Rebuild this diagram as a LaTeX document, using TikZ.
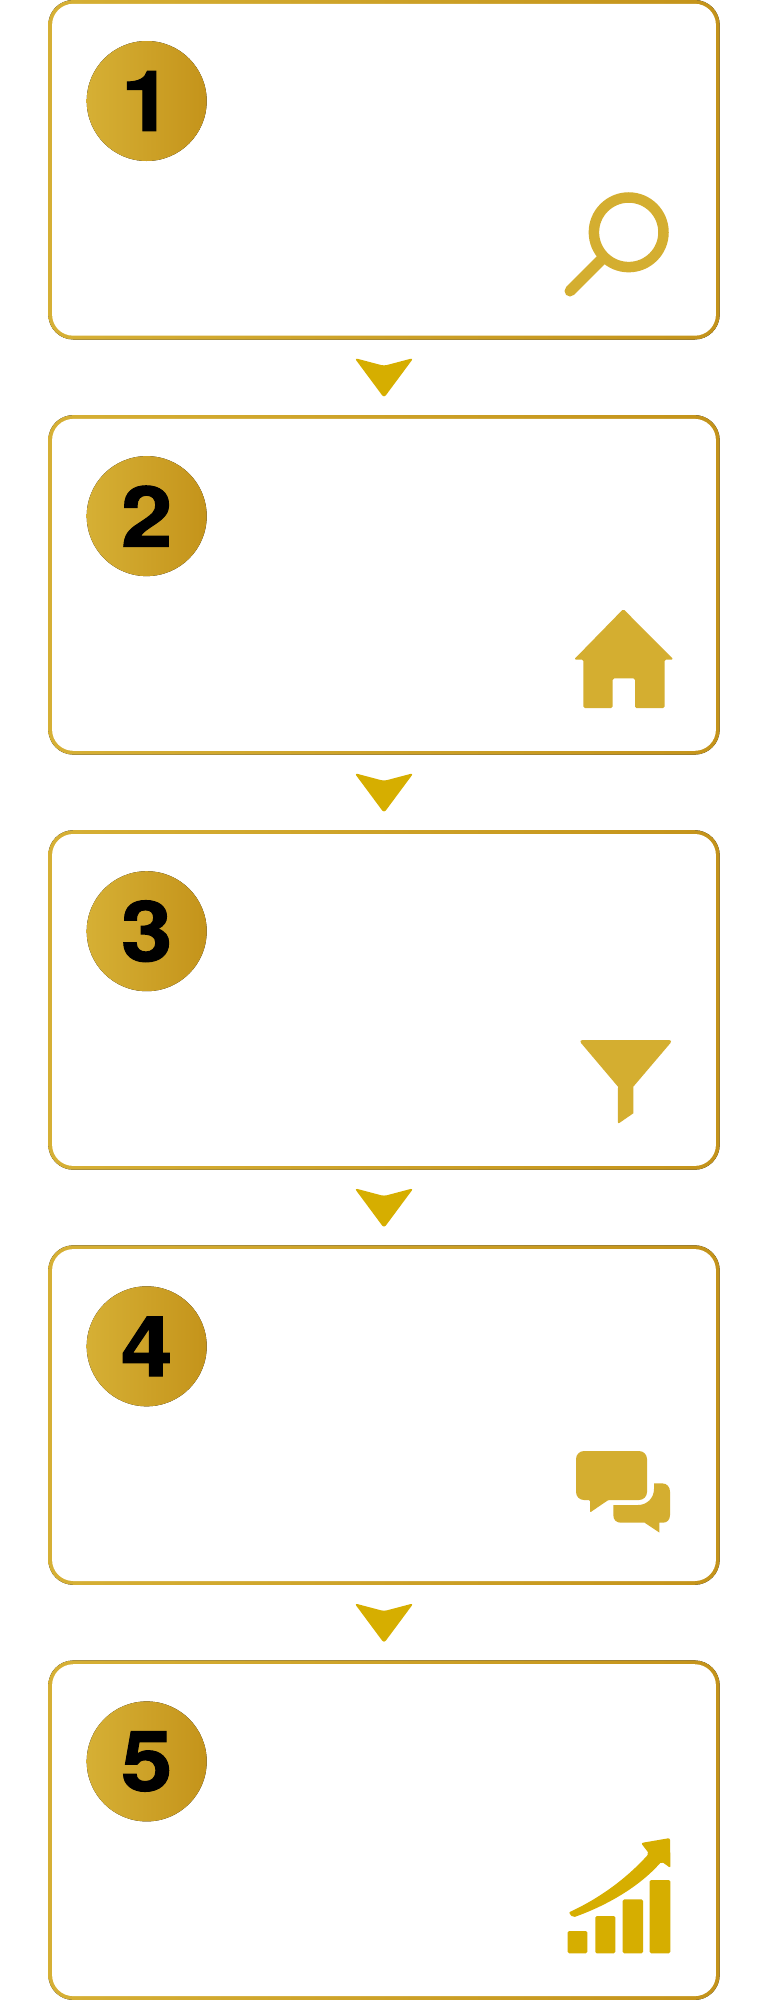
\documentclass[tikz,border=0pt]{standalone}
\usepackage{fontspec}
\usepackage{xcolor}
\usepackage{tikz}
\usetikzlibrary{positioning, calc}
\newfontfamily\digitfont[FakeStretch=1.1,FakeBold=1.2]{TeX Gyre Heros Bold}
\definecolor{goldleft}{HTML}{D6B035}
\definecolor{goldright}{HTML}{C4931A}
\definecolor{goldicon}{HTML}{D4AE30}
\definecolor{goldarrow}{HTML}{D6AE00}
\tikzset{
  goldfill/.style={path picture={\fill[left color=goldleft, right color=goldright]
               ([shift={(-2pt,-2pt)}]path picture bounding box.south west) rectangle
               ([shift={(2pt,2pt)}]path picture bounding box.north east);}},
  card/.style={rounded corners=25pt, goldfill,
               minimum width=671.4pt, minimum height=339.5pt, inner sep=0pt, outer sep=0pt},
  cardin/.style={fill=white, rounded corners=21.2pt,
               minimum width=663.8pt, minimum height=331.9pt, inner sep=0pt, outer sep=0pt},
  badge/.style={circle, goldfill, text=black,
               minimum size=120pt, inner sep=0pt, font=\digitfont\fontsize{84}{84}\selectfont},
  icon/.style={fill=goldicon, rounded corners=1.5pt},
  bar/.style={fill=goldarrow, rounded corners=1.5pt},
  downarrow/.pic={
    \fill[goldarrow, rounded corners=3pt] (-29.5,-19.3) -- (0,-11.5) -- (29.5,-19.3) -- (0,20.5) -- cycle;
  }
}

\begin{document}
\begin{tikzpicture}[x=1pt, y=-1pt, node distance=75.6pt]
  \useasboundingbox (0,0) rectangle (768,2000);
  \node[card] (card1) at (384,169.75) {};
  \node[card, below=of card1] (card2) {};
  \node[card, below=of card2] (card3) {};
  \node[card, below=of card3] (card4) {};
  \node[card, below=of card4] (card5) {};
  \node[cardin] (inner1) at (card1) {};
  \node[cardin] (inner2) at (card2) {};
  \node[cardin] (inner3) at (card3) {};
  \node[cardin] (inner4) at (card4) {};
  \node[cardin] (inner5) at (card5) {};
  \node[badge] (num1) at ([shift={(98.4,101)}]card1.north west) {1};
  \node[badge] (num2) at ([shift={(98.4,101)}]card2.north west) {2};
  \node[badge] (num3) at ([shift={(98.4,101)}]card3.north west) {3};
  \node[badge] (num4) at ([shift={(98.4,101)}]card4.north west) {4};
  \node[badge] (num5) at ([shift={(98.4,101)}]card5.north west) {5};
  \pic at ($(card1.south)!.5!(card2.north)$) {downarrow};
  \pic at ($(card2.south)!.5!(card3.north)$) {downarrow};
  \pic at ($(card3.south)!.5!(card4.north)$) {downarrow};
  \pic at ($(card4.south)!.5!(card5.north)$) {downarrow};
  % magnifier
  \draw[goldicon, line width=10.5pt] (628.7,232.3) circle[radius=34.8];
  \draw[goldicon, line width=11pt, line cap=round] (602,259) -- (570,291);
  % house
  \fill[icon] (623.3,609) -- (673.5,659.5) -- (664.7,659.5) -- (664.7,708) -- (635,708) -- (635,678.3)
    -- (612.7,678.3) -- (612.7,708) -- (583.3,708) -- (583.3,659.5) -- (574,659.5) -- cycle;
  % funnel
  \fill[icon, rounded corners=4pt] (578.5,1040) -- (673,1040) [sharp corners] -- (633.3,1086.7) -- (633.3,1113.3)
    [rounded corners=2pt] -- (617.8,1124) [sharp corners] -- (618,1086.7) [rounded corners=4pt] -- cycle;
  % speech bubbles
  \fill[icon, rounded corners=8pt] (576,1451) -- (647,1451) -- (647,1500) [rounded corners=1pt] -- (608.3,1500)
    -- (590,1512.5) -- (590,1500) [rounded corners=8pt] -- (576,1500) -- cycle;
  \fill[goldicon] (613.3,1505) -- (638,1505) .. controls (647,1505) and (654,1498) .. (654,1489)
    -- (654,1483.3) -- (662,1483.3) .. controls (667,1483.3) and (670,1487) .. (670,1491.7)
    -- (670,1515) .. controls (670,1520) and (667,1522.7) .. (662.7,1522.7) -- (659.3,1522.7)
    -- (659.3,1532.5) -- (644.7,1522.7) -- (621,1522.7) .. controls (616.5,1522.7) and (613.3,1520) .. (613.3,1515) -- cycle;
  % growth chart
  \fill[bar] (567.7,1931) rectangle (587.3,1953.3);
  \fill[bar] (595.3,1916) rectangle (615.3,1953.3);
  \fill[bar] (622.7,1899.3) rectangle (643,1953.3);
  \fill[bar] (649.7,1880) rectangle (670.3,1953.3);
  \fill[goldarrow, rounded corners=2pt] (568.5,1912.5) .. controls (600,1898) and (627,1878) .. (649,1853.5)
    -- (641,1843) -- (670,1838) -- (670.5,1868) -- (661.5,1861.5)
    .. controls (640,1886) and (608,1905) .. (573,1917.5) -- cycle;
\end{tikzpicture}
\end{document}
